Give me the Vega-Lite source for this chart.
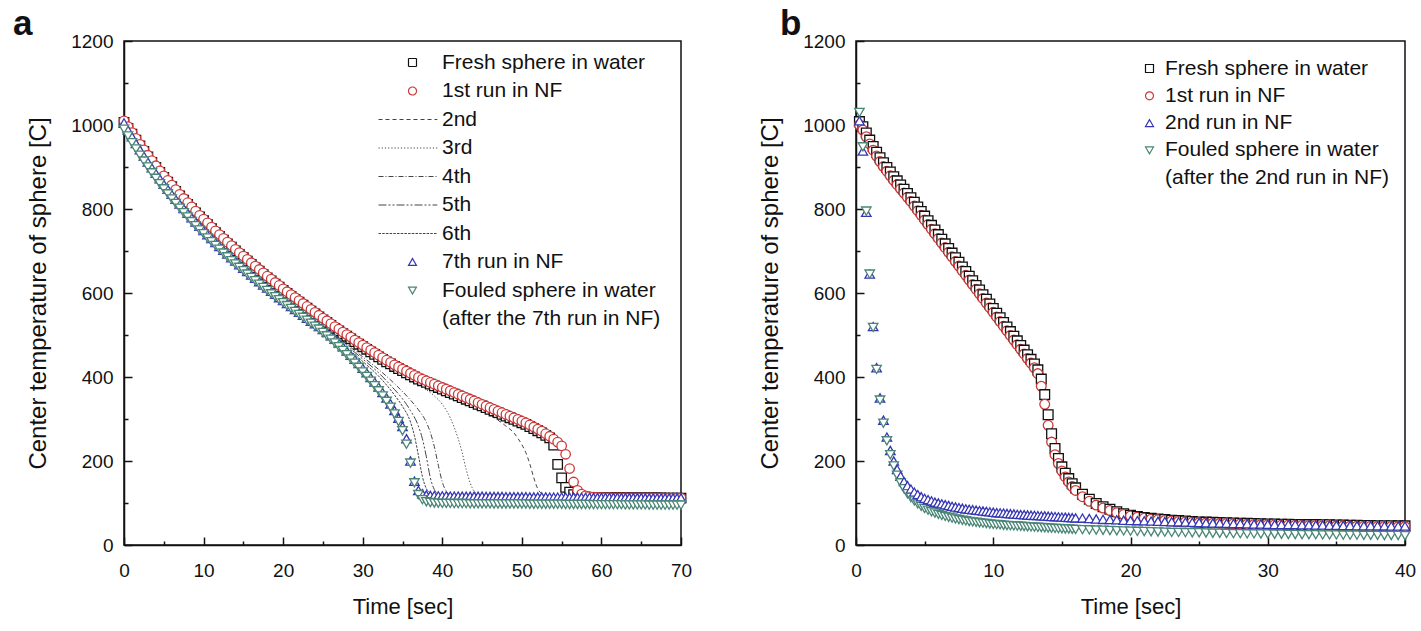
{
"$schema":"https://vega.github.io/schema/vega-lite/v6.json",
"padding":{"left":12,"top":6,"right":5,"bottom":3},
"config":{
 "font":"Liberation Sans",
 "view":{"stroke":"#111","strokeWidth":1.5},
 "axis":{"grid":false,"domainColor":"#111","domainWidth":1.5,"tickColor":"#111","tickWidth":1.5,"labelColor":"#111","titleColor":"#111","labelFontSize":19,"titleFontSize":23,"titleFontWeight":"normal","labelFlush":false,"format":"d"},
 "title":{"fontSize":35,"fontWeight":"bold","color":"#111","anchor":"start","frame":"group"}
},
"datasets":{
"a":[
{"t":0,"k1":1006,"k2":1010,"k3":1005,"k4":990},
{"t":0.5,"k1":992,"k2":996,"k3":988,"k4":974},
{"t":1,"k1":978,"k2":982,"k3":972,"k4":958},
{"t":1.5,"k1":964,"k2":968,"k3":956,"k4":943},
{"t":2,"k1":950,"k2":954,"k3":941,"k4":928},
{"t":2.5,"k1":937,"k2":941,"k3":926,"k4":914},
{"t":3,"k1":924,"k2":928,"k3":912,"k4":900},
{"t":3.5,"k1":911,"k2":915,"k3":898,"k4":886},
{"t":4,"k1":899,"k2":903,"k3":885,"k4":873},
{"t":4.5,"k1":887,"k2":891,"k3":872,"k4":860},
{"t":5,"k1":875,"k2":879,"k3":859,"k4":848},
{"t":5.5,"k1":864,"k2":868,"k3":847,"k4":836},
{"t":6,"k1":853,"k2":857,"k3":835,"k4":824},
{"t":6.5,"k1":842,"k2":846,"k3":823,"k4":813},
{"t":7,"k1":831,"k2":835,"k3":812,"k4":802},
{"t":7.5,"k1":821,"k2":825,"k3":801,"k4":791},
{"t":8,"k1":811,"k2":815,"k3":790,"k4":781},
{"t":8.5,"k1":801,"k2":805,"k3":779,"k4":770},
{"t":9,"k1":791,"k2":795,"k3":769,"k4":760},
{"t":9.5,"k1":781,"k2":785,"k3":759,"k4":750},
{"t":10,"k1":772,"k2":776,"k3":749,"k4":741},
{"t":10.5,"k1":763,"k2":767,"k3":739,"k4":731},
{"t":11,"k1":753,"k2":757,"k3":730,"k4":722},
{"t":11.5,"k1":744,"k2":748,"k3":720,"k4":713},
{"t":12,"k1":735,"k2":739,"k3":711,"k4":704},
{"t":12.5,"k1":726,"k2":730,"k3":702,"k4":695},
{"t":13,"k1":717,"k2":721,"k3":693,"k4":686},
{"t":13.5,"k1":709,"k2":713,"k3":684,"k4":677},
{"t":14,"k1":700,"k2":704,"k3":676,"k4":669},
{"t":14.5,"k1":692,"k2":696,"k3":667,"k4":661},
{"t":15,"k1":684,"k2":688,"k3":659,"k4":653},
{"t":15.5,"k1":676,"k2":680,"k3":651,"k4":645},
{"t":16,"k1":668,"k2":672,"k3":643,"k4":637},
{"t":16.5,"k1":660,"k2":664,"k3":635,"k4":629},
{"t":17,"k1":652,"k2":656,"k3":627,"k4":621},
{"t":17.5,"k1":644,"k2":648,"k3":619,"k4":613},
{"t":18,"k1":636,"k2":640,"k3":612,"k4":606},
{"t":18.5,"k1":629,"k2":633,"k3":604,"k4":598},
{"t":19,"k1":621,"k2":625,"k3":597,"k4":591},
{"t":19.5,"k1":614,"k2":618,"k3":589,"k4":584},
{"t":20,"k1":606,"k2":610,"k3":582,"k4":577},
{"t":20.5,"k1":599,"k2":603,"k3":575,"k4":570},
{"t":21,"k1":592,"k2":596,"k3":568,"k4":563},
{"t":21.5,"k1":585,"k2":589,"k3":561,"k4":556},
{"t":22,"k1":578,"k2":582,"k3":554,"k4":549},
{"t":22.5,"k1":571,"k2":575,"k3":547,"k4":542},
{"t":23,"k1":564,"k2":568,"k3":540,"k4":535},
{"t":23.5,"k1":557,"k2":561,"k3":533,"k4":528},
{"t":24,"k1":550,"k2":554,"k3":527,"k4":521},
{"t":24.5,"k1":543,"k2":547,"k3":520,"k4":514},
{"t":25,"k1":536,"k2":540,"k3":513,"k4":506},
{"t":25.5,"k1":530,"k2":534,"k3":506,"k4":498},
{"t":26,"k1":523,"k2":527,"k3":498,"k4":490},
{"t":26.5,"k1":516,"k2":520,"k3":490,"k4":481},
{"t":27,"k1":510,"k2":514,"k3":481,"k4":472},
{"t":27.5,"k1":503,"k2":507,"k3":472,"k4":463},
{"t":28,"k1":497,"k2":501,"k3":462,"k4":453},
{"t":28.5,"k1":491,"k2":495,"k3":452,"k4":443},
{"t":29,"k1":484,"k2":488,"k3":442,"k4":433},
{"t":29.5,"k1":478,"k2":482,"k3":432,"k4":423},
{"t":30,"k1":472,"k2":476,"k3":421,"k4":412},
{"t":30.5,"k1":466,"k2":470,"k3":410,"k4":401},
{"t":31,"k1":460,"k2":464,"k3":399,"k4":390},
{"t":31.5,"k1":454,"k2":458,"k3":388,"k4":379},
{"t":32,"k1":448,"k2":452,"k3":376,"k4":367},
{"t":32.5,"k1":442,"k2":446,"k3":363,"k4":355},
{"t":33,"k1":436,"k2":440,"k3":350,"k4":342},
{"t":33.5,"k1":431,"k2":435,"k3":336,"k4":328},
{"t":34,"k1":425,"k2":429,"k3":320,"k4":312},
{"t":34.5,"k1":420,"k2":424,"k3":302,"k4":294},
{"t":35,"k1":415,"k2":419,"k3":282,"k4":272},
{"t":35.5,"k1":410,"k2":414,"k3":253,"k4":240},
{"t":36,"k1":405,"k2":409,"k3":200,"k4":195},
{"t":36.5,"k1":400,"k2":404,"k3":152,"k4":148},
{"t":37,"k1":395,"k2":399,"k3":130,"k4":120},
{"t":37.5,"k1":391,"k2":395,"k3":122,"k4":108},
{"t":38,"k1":387,"k2":391,"k3":119,"k4":103},
{"t":38.5,"k1":383,"k2":387,"k3":118,"k4":101},
{"t":39,"k1":379,"k2":383,"k3":117.5,"k4":100},
{"t":39.5,"k1":375,"k2":379,"k3":117,"k4":99.5},
{"t":40,"k1":371,"k2":375,"k3":117,"k4":99},
{"t":40.5,"k1":367,"k2":371,"k3":117,"k4":99},
{"t":41,"k1":363,"k2":367,"k3":116.5,"k4":99},
{"t":41.5,"k1":359,"k2":363,"k3":116.5,"k4":98.5},
{"t":42,"k1":355,"k2":359,"k3":116.5,"k4":98.5},
{"t":42.5,"k1":351,"k2":355,"k3":116,"k4":98.5},
{"t":43,"k1":347,"k2":351,"k3":116,"k4":98.5},
{"t":43.5,"k1":343,"k2":347,"k3":116,"k4":98},
{"t":44,"k1":339,"k2":343,"k3":116,"k4":98},
{"t":44.5,"k1":335,"k2":339,"k3":116,"k4":98},
{"t":45,"k1":331,"k2":335,"k3":116,"k4":98},
{"t":45.5,"k1":327,"k2":331,"k3":115.5,"k4":98},
{"t":46,"k1":323,"k2":327,"k3":115.5,"k4":98},
{"t":46.5,"k1":319,"k2":323,"k3":115.5,"k4":97.5},
{"t":47,"k1":315,"k2":319,"k3":115.5,"k4":97.5},
{"t":47.5,"k1":311,"k2":315,"k3":115.5,"k4":97.5},
{"t":48,"k1":307,"k2":311,"k3":115,"k4":97.5},
{"t":48.5,"k1":303,"k2":307,"k3":115,"k4":97.5},
{"t":49,"k1":299,"k2":303,"k3":115,"k4":97.5},
{"t":49.5,"k1":295,"k2":299,"k3":115,"k4":97.5},
{"t":50,"k1":291,"k2":295,"k3":115,"k4":97.5},
{"t":50.5,"k1":287,"k2":291,"k3":115,"k4":97.5},
{"t":51,"k1":282,"k2":286,"k3":114.5,"k4":97},
{"t":51.5,"k1":277,"k2":281,"k3":114.5,"k4":97},
{"t":52,"k1":272,"k2":276,"k3":114.5,"k4":97},
{"t":52.5,"k1":267,"k2":271,"k3":114.5,"k4":97},
{"t":53,"k1":261,"k2":265,"k3":114.5,"k4":97},
{"t":53.5,"k1":255,"k2":259,"k3":114,"k4":97},
{"t":54,"k1":238,"k2":252,"k3":114,"k4":97},
{"t":54.5,"k1":192,"k2":245,"k3":114,"k4":97},
{"t":55,"k1":160,"k2":236,"k3":114,"k4":97},
{"t":55.5,"k1":137,"k2":216,"k3":114,"k4":96.5},
{"t":56,"k1":126,"k2":182,"k3":113.5,"k4":96.5},
{"t":56.5,"k1":120,"k2":150,"k3":113.5,"k4":96.5},
{"t":57,"k1":117,"k2":130,"k3":113.5,"k4":96.5},
{"t":57.5,"k1":115,"k2":121,"k3":113.5,"k4":96.5},
{"t":58,"k1":114,"k2":117,"k3":113.5,"k4":96.5},
{"t":58.5,"k1":113.5,"k2":115,"k3":113.5,"k4":96.5},
{"t":59,"k1":113,"k2":114,"k3":113,"k4":96},
{"t":59.5,"k1":113,"k2":113.5,"k3":113,"k4":96},
{"t":60,"k1":113,"k2":113,"k3":113,"k4":96},
{"t":60.5,"k1":113,"k2":113,"k3":113,"k4":96},
{"t":61,"k1":112.5,"k2":113,"k3":113,"k4":96},
{"t":61.5,"k1":112.5,"k2":112.5,"k3":113,"k4":96},
{"t":62,"k1":112.5,"k2":112.5,"k3":113,"k4":96},
{"t":62.5,"k1":112.5,"k2":112.5,"k3":112.5,"k4":96},
{"t":63,"k1":112.5,"k2":112.5,"k3":112.5,"k4":95.5},
{"t":63.5,"k1":112,"k2":112,"k3":112.5,"k4":95.5},
{"t":64,"k1":112,"k2":112,"k3":112.5,"k4":95.5},
{"t":64.5,"k1":112,"k2":112,"k3":112.5,"k4":95.5},
{"t":65,"k1":112,"k2":112,"k3":112.5,"k4":95.5},
{"t":65.5,"k1":112,"k2":112,"k3":112,"k4":95.5},
{"t":66,"k1":112,"k2":112,"k3":112,"k4":95},
{"t":66.5,"k1":112,"k2":112,"k3":112,"k4":95},
{"t":67,"k1":112,"k2":112,"k3":112,"k4":95},
{"t":67.5,"k1":112,"k2":112,"k3":112,"k4":95},
{"t":68,"k1":111.5,"k2":111.5,"k3":112,"k4":95},
{"t":68.5,"k1":111.5,"k2":111.5,"k3":112,"k4":95},
{"t":69,"k1":111.5,"k2":111.5,"k3":112,"k4":95},
{"t":69.5,"k1":111.5,"k2":111.5,"k3":112,"k4":95},
{"t":70,"k1":111.5,"k2":111.5,"k3":112,"k4":95}
],
"al":[
{"s":"L2","t":0,"v":1003},{"s":"L2","t":5,"v":872},{"s":"L2","t":10,"v":770},{"s":"L2","t":15,"v":684},{"s":"L2","t":20,"v":606},{"s":"L2","t":25,"v":537},{"s":"L2","t":30,"v":472},{"s":"L2","t":35,"v":414},{"s":"L2","t":40,"v":370},{"s":"L2","t":42,"v":352},{"s":"L2","t":44,"v":332},{"s":"L2","t":46,"v":310},{"s":"L2","t":48,"v":283},{"s":"L2","t":49,"v":267},{"s":"L2","t":49.5,"v":254},{"s":"L2","t":50,"v":239},{"s":"L2","t":50.5,"v":220},{"s":"L2","t":51,"v":193},{"s":"L2","t":51.5,"v":160},{"s":"L2","t":52,"v":134},{"s":"L2","t":52.5,"v":122},{"s":"L2","t":53,"v":117},{"s":"L2","t":54,"v":115},{"s":"L2","t":60,"v":113},{"s":"L2","t":70,"v":112},
{"s":"L3","t":0,"v":1000},{"s":"L3","t":5,"v":868},{"s":"L3","t":10,"v":765},{"s":"L3","t":15,"v":678},{"s":"L3","t":20,"v":600},{"s":"L3","t":25,"v":530},{"s":"L3","t":30,"v":463},{"s":"L3","t":32,"v":440},{"s":"L3","t":34,"v":418},{"s":"L3","t":36,"v":395},{"s":"L3","t":38,"v":370},{"s":"L3","t":39,"v":355},{"s":"L3","t":40,"v":335},{"s":"L3","t":41,"v":303},{"s":"L3","t":41.5,"v":280},{"s":"L3","t":42,"v":253},{"s":"L3","t":42.5,"v":220},{"s":"L3","t":43,"v":180},{"s":"L3","t":43.5,"v":148},{"s":"L3","t":44,"v":128},{"s":"L3","t":44.5,"v":120},{"s":"L3","t":45,"v":117},{"s":"L3","t":50,"v":115},{"s":"L3","t":60,"v":113},{"s":"L3","t":70,"v":112},
{"s":"L4","t":0,"v":1000},{"s":"L4","t":5,"v":865},{"s":"L4","t":10,"v":760},{"s":"L4","t":15,"v":672},{"s":"L4","t":20,"v":593},{"s":"L4","t":25,"v":522},{"s":"L4","t":30,"v":448},{"s":"L4","t":32,"v":418},{"s":"L4","t":34,"v":384},{"s":"L4","t":36,"v":345},{"s":"L4","t":37,"v":322},{"s":"L4","t":38,"v":292},{"s":"L4","t":38.5,"v":268},{"s":"L4","t":39,"v":234},{"s":"L4","t":39.5,"v":190},{"s":"L4","t":40,"v":150},{"s":"L4","t":40.5,"v":128},{"s":"L4","t":41,"v":120},{"s":"L4","t":42,"v":117},{"s":"L4","t":50,"v":115},{"s":"L4","t":60,"v":113},{"s":"L4","t":70,"v":112},
{"s":"L5","t":0,"v":1000},{"s":"L5","t":5,"v":863},{"s":"L5","t":10,"v":757},{"s":"L5","t":15,"v":668},{"s":"L5","t":20,"v":590},{"s":"L5","t":25,"v":518},{"s":"L5","t":30,"v":443},{"s":"L5","t":32,"v":410},{"s":"L5","t":34,"v":370},{"s":"L5","t":35,"v":348},{"s":"L5","t":36,"v":320},{"s":"L5","t":37,"v":283},{"s":"L5","t":37.5,"v":253},{"s":"L5","t":38,"v":210},{"s":"L5","t":38.5,"v":160},{"s":"L5","t":39,"v":132},{"s":"L5","t":39.5,"v":122},{"s":"L5","t":40,"v":118},{"s":"L5","t":50,"v":115},{"s":"L5","t":60,"v":113},{"s":"L5","t":70,"v":112},
{"s":"L6","t":0,"v":1000},{"s":"L6","t":5,"v":861},{"s":"L6","t":10,"v":754},{"s":"L6","t":15,"v":664},{"s":"L6","t":20,"v":586},{"s":"L6","t":25,"v":514},{"s":"L6","t":30,"v":437},{"s":"L6","t":32,"v":402},{"s":"L6","t":34,"v":357},{"s":"L6","t":35,"v":330},{"s":"L6","t":36,"v":293},{"s":"L6","t":36.5,"v":260},{"s":"L6","t":37,"v":213},{"s":"L6","t":37.5,"v":163},{"s":"L6","t":38,"v":134},{"s":"L6","t":38.5,"v":124},{"s":"L6","t":39,"v":119},{"s":"L6","t":40,"v":117},{"s":"L6","t":50,"v":115},{"s":"L6","t":60,"v":113},{"s":"L6","t":70,"v":112}
],
"b":[
{"t":0.25,"k1":1008,"k2":1000,"k3":1010,"k4":1030},
{"t":0.5,"k1":996,"k2":988,"k3":938,"k4":948},
{"t":0.75,"k1":981,"k2":972,"k3":792,"k4":795},
{"t":1,"k1":964,"k2":955,"k3":645,"k4":645},
{"t":1.25,"k1":949,"k2":940,"k3":520,"k4":518},
{"t":1.5,"k1":935,"k2":926,"k3":422,"k4":418},
{"t":1.75,"k1":922,"k2":913,"k3":350,"k4":345},
{"t":2,"k1":910,"k2":901,"k3":297,"k4":290},
{"t":2.25,"k1":899,"k2":890,"k3":257,"k4":248},
{"t":2.5,"k1":888,"k2":879,"k3":225,"k4":215},
{"t":2.75,"k1":877,"k2":868,"k3":200,"k4":188},
{"t":3,"k1":867,"k2":858,"k3":180,"k4":166},
{"t":3.25,"k1":857,"k2":848,"k3":164,"k4":148},
{"t":3.5,"k1":847,"k2":838,"k3":151,"k4":134},
{"t":3.75,"k1":837,"k2":828,"k3":141,"k4":122},
{"t":4,"k1":827,"k2":818,"k3":133,"k4":113},
{"t":4.25,"k1":816,"k2":807,"k3":126,"k4":105},
{"t":4.5,"k1":805,"k2":796,"k3":120,"k4":98},
{"t":4.75,"k1":794,"k2":785,"k3":115,"k4":92},
{"t":5,"k1":783,"k2":774,"k3":111,"k4":87},
{"t":5.25,"k1":772,"k2":763,"k3":108,"k4":83},
{"t":5.5,"k1":761,"k2":752,"k3":105,"k4":79},
{"t":5.75,"k1":750,"k2":741,"k3":102,"k4":76},
{"t":6,"k1":739,"k2":730,"k3":100,"k4":73},
{"t":6.25,"k1":728,"k2":719,"k3":98,"k4":70.5},
{"t":6.5,"k1":717,"k2":708,"k3":96,"k4":68},
{"t":6.75,"k1":706,"k2":697,"k3":94,"k4":66},
{"t":7,"k1":695,"k2":686,"k3":92,"k4":64},
{"t":7.25,"k1":684,"k2":675,"k3":90.5,"k4":62},
{"t":7.5,"k1":673,"k2":664,"k3":89,"k4":60.5},
{"t":7.75,"k1":662,"k2":653,"k3":87.5,"k4":59},
{"t":8,"k1":651,"k2":642,"k3":86,"k4":57.5},
{"t":8.25,"k1":640,"k2":631,"k3":85,"k4":56},
{"t":8.5,"k1":629,"k2":620,"k3":84,"k4":55},
{"t":8.75,"k1":618,"k2":609,"k3":83,"k4":54},
{"t":9,"k1":607,"k2":598,"k3":82,"k4":53},
{"t":9.25,"k1":596,"k2":587,"k3":81,"k4":52},
{"t":9.5,"k1":585,"k2":576,"k3":80,"k4":51},
{"t":9.75,"k1":574,"k2":565,"k3":79,"k4":50},
{"t":10,"k1":563,"k2":554,"k3":78,"k4":49},
{"t":10.25,"k1":552,"k2":543,"k3":77,"k4":48.5},
{"t":10.5,"k1":541,"k2":532,"k3":76.5,"k4":48},
{"t":10.75,"k1":530,"k2":521,"k3":76,"k4":47},
{"t":11,"k1":519,"k2":510,"k3":75,"k4":46.5},
{"t":11.25,"k1":508,"k2":499,"k3":74.5,"k4":46},
{"t":11.5,"k1":497,"k2":488,"k3":74,"k4":45.5},
{"t":11.75,"k1":486,"k2":477,"k3":73,"k4":45},
{"t":12,"k1":475,"k2":466,"k3":72.5,"k4":44.5},
{"t":12.25,"k1":464,"k2":455,"k3":72,"k4":44},
{"t":12.5,"k1":453,"k2":444,"k3":71.5,"k4":43.5},
{"t":12.75,"k1":442,"k2":433,"k3":71,"k4":43},
{"t":13,"k1":431,"k2":422,"k3":70.5,"k4":42.5},
{"t":13.25,"k1":417,"k2":408,"k3":70,"k4":42},
{"t":13.5,"k1":395,"k2":378,"k3":69.5,"k4":41.5},
{"t":13.75,"k1":358,"k2":335,"k3":69,"k4":41},
{"t":14,"k1":310,"k2":285,"k3":68.5,"k4":40.5},
{"t":14.25,"k1":265,"k2":245,"k3":68,"k4":40},
{"t":14.5,"k1":230,"k2":215,"k3":67.5,"k4":39.5},
{"t":14.75,"k1":206,"k2":194,"k3":67,"k4":39},
{"t":15,"k1":186,"k2":176,"k3":66.5,"k4":38.5},
{"t":15.25,"k1":171,"k2":162,"k3":66,"k4":38},
{"t":15.5,"k1":158,"k2":150,"k3":65.5,"k4":38},
{"t":15.75,"k1":146,"k2":139,"k3":65,"k4":37.5},
{"t":16,"k1":136,"k2":130,"k3":64.5,"k4":37},
{"t":16.5,"k1":121,"k2":115,"k3":64,"k4":36.5},
{"t":17,"k1":109,"k2":104,"k3":63,"k4":36},
{"t":17.5,"k1":99,"k2":95,"k3":62,"k4":35.5},
{"t":18,"k1":91,"k2":88,"k3":61,"k4":35},
{"t":18.5,"k1":85,"k2":82,"k3":60.5,"k4":34.5},
{"t":19,"k1":79,"k2":77,"k3":60,"k4":34},
{"t":19.5,"k1":74.5,"k2":72.5,"k3":59,"k4":33.5},
{"t":20,"k1":71,"k2":69,"k3":58.5,"k4":33},
{"t":20.5,"k1":68,"k2":66,"k3":58,"k4":32.5},
{"t":21,"k1":65.5,"k2":63.5,"k3":57.5,"k4":32},
{"t":21.5,"k1":63.5,"k2":61.5,"k3":57,"k4":31.5},
{"t":22,"k1":62,"k2":60,"k3":56.5,"k4":31},
{"t":22.5,"k1":60.5,"k2":58.5,"k3":56,"k4":30.5},
{"t":23,"k1":59,"k2":57,"k3":55.5,"k4":30},
{"t":23.5,"k1":58,"k2":56,"k3":55,"k4":30},
{"t":24,"k1":57,"k2":55,"k3":54.5,"k4":29.5},
{"t":24.5,"k1":56,"k2":54,"k3":54,"k4":29},
{"t":25,"k1":55,"k2":53,"k3":53.5,"k4":29},
{"t":25.5,"k1":54.5,"k2":52.5,"k3":53,"k4":28.5},
{"t":26,"k1":54,"k2":52,"k3":52.5,"k4":28},
{"t":26.5,"k1":53.5,"k2":51.5,"k3":52,"k4":28},
{"t":27,"k1":53,"k2":51,"k3":51.5,"k4":27.5},
{"t":27.5,"k1":52.5,"k2":50.5,"k3":51,"k4":27},
{"t":28,"k1":52,"k2":50,"k3":51,"k4":27},
{"t":28.5,"k1":51.5,"k2":49.5,"k3":50.5,"k4":26.5},
{"t":29,"k1":51,"k2":49,"k3":50,"k4":26.5},
{"t":29.5,"k1":50.5,"k2":48.5,"k3":50,"k4":26},
{"t":30,"k1":50,"k2":48,"k3":49.5,"k4":26},
{"t":30.5,"k1":50,"k2":48,"k3":49,"k4":25.5},
{"t":31,"k1":49.5,"k2":47.5,"k3":49,"k4":25.5},
{"t":31.5,"k1":49.5,"k2":47.5,"k3":48.5,"k4":25},
{"t":32,"k1":49,"k2":47,"k3":48.5,"k4":25},
{"t":32.5,"k1":49,"k2":47,"k3":48,"k4":24.5},
{"t":33,"k1":48.5,"k2":46.5,"k3":48,"k4":24.5},
{"t":33.5,"k1":48.5,"k2":46.5,"k3":47.5,"k4":24.5},
{"t":34,"k1":48,"k2":46,"k3":47.5,"k4":24},
{"t":34.5,"k1":48,"k2":46,"k3":47,"k4":24},
{"t":35,"k1":47.5,"k2":45.5,"k3":47,"k4":24},
{"t":35.5,"k1":47.5,"k2":45.5,"k3":46.5,"k4":23.5},
{"t":36,"k1":47,"k2":45,"k3":46.5,"k4":23.5},
{"t":36.5,"k1":47,"k2":45,"k3":46,"k4":23.5},
{"t":37,"k1":46.5,"k2":44.5,"k3":46,"k4":23},
{"t":37.5,"k1":46.5,"k2":44.5,"k3":46,"k4":23},
{"t":38,"k1":46,"k2":44,"k3":45.5,"k4":23},
{"t":38.5,"k1":46,"k2":44,"k3":45.5,"k4":22.5},
{"t":39,"k1":46,"k2":44,"k3":45,"k4":22.5},
{"t":39.5,"k1":45.5,"k2":43.5,"k3":45,"k4":22.5},
{"t":40,"k1":45.5,"k2":43.5,"k3":45,"k4":22}
]
},
"spacing":175,
"bounds":"flush",
"resolve":{"scale":{"x":"independent","y":"independent","stroke":"independent","shape":"independent","strokeDash":"independent"},"legend":{"stroke":"independent","shape":"independent","strokeDash":"independent"}},
"hconcat":[
{
 "width":557,"height":504,
 "title":{"text":"a","dx":-111,"dy":50,"offset":12,"baseline":"alphabetic"},
 "resolve":{"axis":{"x":"independent","y":"independent"}},
 "layer":[
  {
   "data":{"name":"al"},
   "mark":{"type":"line","strokeWidth":1,"interpolate":"monotone"},
   "encoding":{
    "x":{"field":"t","type":"quantitative","scale":{"domain":[0,70],"nice":false},"axis":{"orient":"bottom","values":[5,15,25,35,45,55,65],"tickSize":-4,"labels":false,"domain":false,"title":null,"grid":false}},
    "y":{"field":"v","type":"quantitative","scale":{"domain":[0,1200],"nice":false},"axis":{"orient":"left","values":[100,300,500,700,900,1100],"tickSize":-4,"labels":false,"domain":false,"title":null,"grid":false}},
    "stroke":{"field":"s","type":"nominal",
      "scale":{"domain":["k1","k2","L2","L3","L4","L5","L6","k3","k4","X"],"range":["#111111","#cc3838","#444444","#444444","#444444","#444444","#444444","#3535b5","#4a8575","transparent"]},
      "legend":{"orient":"none","legendX":278,"legendY":11,"title":null,"labelExpr":"datum.value=='k1'?'Fresh sphere in water':datum.value=='k2'?'1st run in NF':datum.value=='L2'?'2nd':datum.value=='L3'?'3rd':datum.value=='L4'?'4th':datum.value=='L5'?'5th':datum.value=='L6'?'6th':datum.value=='k3'?'7th run in NF':datum.value=='k4'?'Fouled sphere in water':'(after the 7th run in NF)'","symbolSize":64,"symbolStrokeWidth":1.2,"labelFontSize":21,"labelColor":"#111","labelOffset":19,"rowPadding":6.5,"padding":0,"labelLimit":400}},
    "strokeDash":{"field":"s","type":"nominal",
      "scale":{"domain":["k1","k2","L2","L3","L4","L5","L6","k3","k4","X"],"range":[[1,0],[1,0],[4,3],[1.2,2],[5,2,1,2],[8,2,2,2,2,2],[2.5,1.2],[1,0],[1,0],[1,0]]},
      "legend":{"orient":"none","legendX":278,"legendY":11,"title":null,"labelExpr":"datum.value=='k1'?'Fresh sphere in water':datum.value=='k2'?'1st run in NF':datum.value=='L2'?'2nd':datum.value=='L3'?'3rd':datum.value=='L4'?'4th':datum.value=='L5'?'5th':datum.value=='L6'?'6th':datum.value=='k3'?'7th run in NF':datum.value=='k4'?'Fouled sphere in water':'(after the 7th run in NF)'","symbolSize":64,"symbolStrokeWidth":1.2,"labelFontSize":21,"labelColor":"#111","labelOffset":19,"rowPadding":6.5,"padding":0,"labelLimit":400}}
   }
  },
  {
   "data":{"name":"a"},
   "transform":[{"fold":["k1","k2","k3","k4"],"as":["s","v"]}],
   "mark":{"type":"point","filled":false,"fill":"white","strokeWidth":1.3,"size":90,"opacity":1},
   "encoding":{
    "x":{"field":"t","type":"quantitative","scale":{"domain":[0,70],"nice":false},"axis":{"orient":"bottom","values":[0,10,20,30,40,50,60,70],"tickSize":-8,"labelPadding":24,"title":"Time [sec]","titlePadding":16,"titleFontSize":22}},
    "y":{"field":"v","type":"quantitative","scale":{"domain":[0,1200],"nice":false},"axis":{"orient":"left","values":[0,200,400,600,800,1000,1200],"tickSize":-8,"labelPadding":19,"title":"Center temperature of sphere [C]","titlePadding":20,"titleFontSize":24}},
    "stroke":{"field":"s","type":"nominal",
      "scale":{"domain":["k1","k2","L2","L3","L4","L5","L6","k3","k4","X"],"range":["#111111","#cc3838","#444444","#444444","#444444","#444444","#444444","#3535b5","#4a8575","transparent"]},
      "legend":{"orient":"none","legendX":278,"legendY":11,"title":null,"labelExpr":"datum.value=='k1'?'Fresh sphere in water':datum.value=='k2'?'1st run in NF':datum.value=='L2'?'2nd':datum.value=='L3'?'3rd':datum.value=='L4'?'4th':datum.value=='L5'?'5th':datum.value=='L6'?'6th':datum.value=='k3'?'7th run in NF':datum.value=='k4'?'Fouled sphere in water':'(after the 7th run in NF)'","symbolSize":64,"symbolStrokeWidth":1.2,"labelFontSize":21,"labelColor":"#111","labelOffset":19,"rowPadding":6.5,"padding":0,"labelLimit":400}},
    "shape":{"field":"s","type":"nominal",
      "scale":{"domain":["k1","k2","L2","L3","L4","L5","L6","k3","k4","X"],"range":["square","circle","M-8.5,0H6.2","M-8.5,0H6.2","M-8.5,0H6.2","M-8.5,0H6.2","M-8.5,0H6.2","triangle-up","triangle-down","circle"]},
      "legend":{"orient":"none","legendX":278,"legendY":11,"title":null,"labelExpr":"datum.value=='k1'?'Fresh sphere in water':datum.value=='k2'?'1st run in NF':datum.value=='L2'?'2nd':datum.value=='L3'?'3rd':datum.value=='L4'?'4th':datum.value=='L5'?'5th':datum.value=='L6'?'6th':datum.value=='k3'?'7th run in NF':datum.value=='k4'?'Fouled sphere in water':'(after the 7th run in NF)'","symbolSize":64,"symbolStrokeWidth":1.2,"labelFontSize":21,"labelColor":"#111","labelOffset":19,"rowPadding":6.5,"padding":0,"labelLimit":400}},
    "order":{"field":"s"}
   }
  }
 ]
},
{
 "width":549,"height":504,
 "title":{"text":"b","dx":-76,"dy":50,"offset":12,"baseline":"alphabetic"},
 "resolve":{"axis":{"x":"independent","y":"independent"}},
 "layer":[
  {
   "data":{"name":"b"},
   "transform":[{"fold":["k1","k2"],"as":["s","v"]}],
   "mark":{"type":"point","filled":false,"fill":"white","strokeWidth":1.3,"size":95,"opacity":1},
   "encoding":{
    "x":{"field":"t","type":"quantitative","scale":{"domain":[0,40],"nice":false},"axis":{"orient":"bottom","values":[5,15,25,35],"tickSize":-4,"labels":false,"domain":false,"title":null,"grid":false}},
    "y":{"field":"v","type":"quantitative","scale":{"domain":[0,1200],"nice":false},"axis":{"orient":"left","values":[100,300,500,700,900,1100],"tickSize":-4,"labels":false,"domain":false,"title":null,"grid":false}},
    "stroke":{"field":"s","type":"nominal",
      "scale":{"domain":["k1","k2","k3","k4","X"],"range":["#111111","#cc3838","#3535b5","#4a8575","transparent"]},
      "legend":{"orient":"none","legendX":283,"legendY":17,"title":null,"labelExpr":"datum.value=='k1'?'Fresh sphere in water':datum.value=='k2'?'1st run in NF':datum.value=='k3'?'2nd run in NF':datum.value=='k4'?'Fouled sphere in water':'(after the 2nd run in NF)'","symbolSize":64,"symbolStrokeWidth":1.2,"labelFontSize":21,"labelColor":"#111","labelOffset":5,"rowPadding":5.3,"padding":0,"labelLimit":400}},
    "shape":{"field":"s","type":"nominal",
      "scale":{"domain":["k1","k2","k3","k4","X"],"range":["square","circle","triangle-up","triangle-down","circle"]},
      "legend":{"orient":"none","legendX":283,"legendY":17,"title":null,"labelExpr":"datum.value=='k1'?'Fresh sphere in water':datum.value=='k2'?'1st run in NF':datum.value=='k3'?'2nd run in NF':datum.value=='k4'?'Fouled sphere in water':'(after the 2nd run in NF)'","symbolSize":64,"symbolStrokeWidth":1.2,"labelFontSize":21,"labelColor":"#111","labelOffset":5,"rowPadding":5.3,"padding":0,"labelLimit":400}}
   }
  },
  {
   "data":{"name":"b"},
   "transform":[{"fold":["k3","k4"],"as":["s","v"]}],
   "mark":{"type":"point","filled":false,"fill":"white","strokeWidth":1.3,"size":90,"opacity":1},
   "encoding":{
    "x":{"field":"t","type":"quantitative","scale":{"domain":[0,40],"nice":false},"axis":{"orient":"bottom","values":[0,10,20,30,40],"tickSize":-8,"labelPadding":24,"title":"Time [sec]","titlePadding":16,"titleFontSize":22}},
    "y":{"field":"v","type":"quantitative","scale":{"domain":[0,1200],"nice":false},"axis":{"orient":"left","values":[0,200,400,600,800,1000,1200],"tickSize":-8,"labelPadding":19,"title":"Center temperature of sphere [C]","titlePadding":20,"titleFontSize":24}},
    "stroke":{"field":"s","type":"nominal",
      "scale":{"domain":["k1","k2","k3","k4","X"],"range":["#111111","#cc3838","#3535b5","#4a8575","transparent"]},
      "legend":{"orient":"none","legendX":283,"legendY":17,"title":null,"labelExpr":"datum.value=='k1'?'Fresh sphere in water':datum.value=='k2'?'1st run in NF':datum.value=='k3'?'2nd run in NF':datum.value=='k4'?'Fouled sphere in water':'(after the 2nd run in NF)'","symbolSize":64,"symbolStrokeWidth":1.2,"labelFontSize":21,"labelColor":"#111","labelOffset":5,"rowPadding":5.3,"padding":0,"labelLimit":400}},
    "shape":{"field":"s","type":"nominal",
      "scale":{"domain":["k1","k2","k3","k4","X"],"range":["square","circle","triangle-up","triangle-down","circle"]},
      "legend":{"orient":"none","legendX":283,"legendY":17,"title":null,"labelExpr":"datum.value=='k1'?'Fresh sphere in water':datum.value=='k2'?'1st run in NF':datum.value=='k3'?'2nd run in NF':datum.value=='k4'?'Fouled sphere in water':'(after the 2nd run in NF)'","symbolSize":64,"symbolStrokeWidth":1.2,"labelFontSize":21,"labelColor":"#111","labelOffset":5,"rowPadding":5.3,"padding":0,"labelLimit":400}}
   }
  }
 ]
}
]
}
